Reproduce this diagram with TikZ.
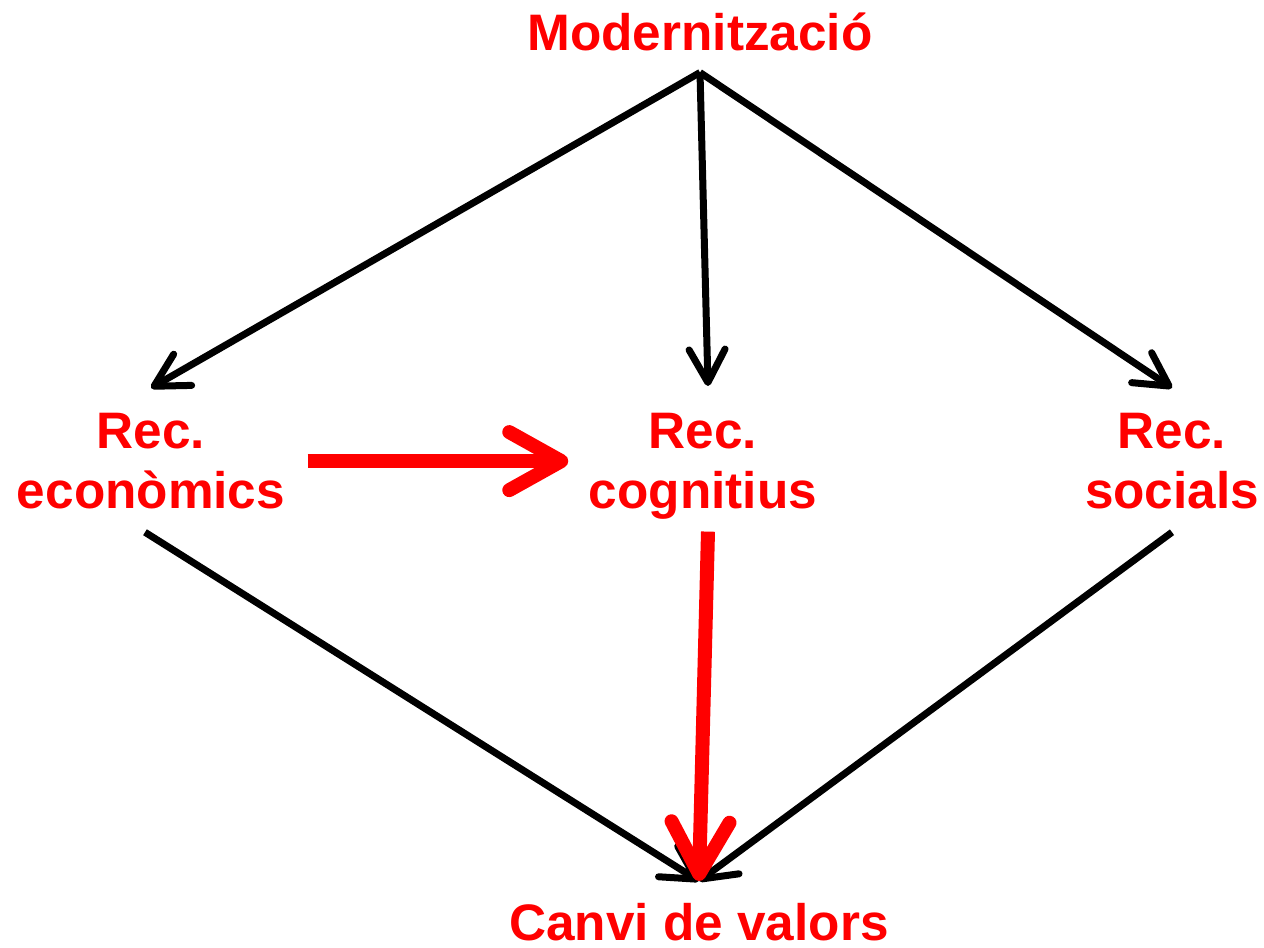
\documentclass[tikz,border=0pt]{standalone}
\usepackage{fontspec}
\setmainfont{Liberation Sans}
\usetikzlibrary{arrows.meta}
\tikzset{
  lbl/.style={text=red,font=\fontsize{14.6}{16.8}\selectfont\bfseries,align=center,inner sep=0pt,anchor=north},
  blk/.style={line width=0.07cm,-{Straight Barb[round,length=0.33cm,width=0.36cm]}},
  rd/.style={red,line width=0.14cm,-{Straight Barb[round,length=0.52cm,width=0.58cm]}}
}
\begin{document}
\begin{tikzpicture}
\useasboundingbox (0,0) rectangle (12.64,9.48);

\node[lbl] (modern) at (7.00,9.36) {Modernització};
\node[lbl] (econ) at (1.51,5.35) {Rec.\\econòmics};
\node[lbl] (cog) at (7.03,5.35) {Rec.\\cognitius};
\node[lbl] (soc) at (11.72,5.35) {Rec.\\socials};
\node[lbl] (canvi) at (6.99,0.45) {Canvi de valors};

\draw[blk] ([yshift=-0.21cm]modern.south) -- ([yshift=0.25cm]econ.north);
\draw[blk] ([yshift=-0.21cm]modern.south) -- ([xshift=0.05cm,yshift=0.27cm]cog.north);
\draw[blk] ([yshift=-0.21cm]modern.south) -- ([yshift=0.25cm]soc.north);

\draw[blk] ([xshift=-0.06cm,yshift=-0.23cm]econ.south) -- ([yshift=0.22cm]canvi.north);
\draw[blk] ([yshift=-0.23cm]soc.south) -- ([yshift=0.22cm]canvi.north);

\draw[rd,shorten <=0.22cm,shorten >=0.2cm] (econ.east) -- (econ.east -| cog.west);
\draw[rd] ([xshift=0.05cm,yshift=-0.12cm]cog.south) -- ([yshift=0.22cm]canvi.north);

\end{tikzpicture}
\end{document}
